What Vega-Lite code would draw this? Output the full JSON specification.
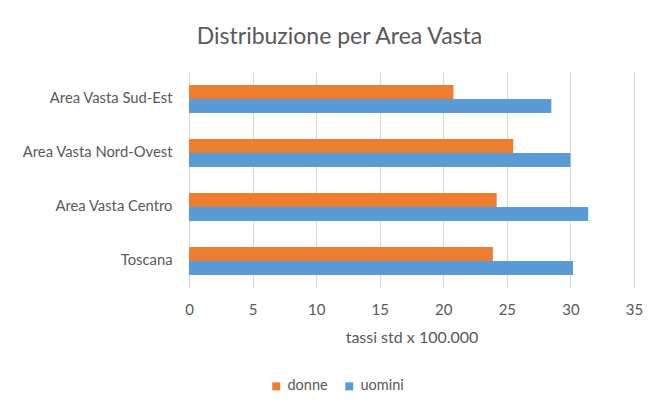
{
  "$schema": "https://vega.github.io/schema/vega-lite/v6.json",
  "autosize": "none",
  "width": 445,
  "height": 216,
  "padding": {"left": 189, "top": 72, "right": 28, "bottom": 117},
  "background": "white",
  "title": {
    "text": "Distribuzione per Area Vasta",
    "anchor": "middle",
    "frame": "group",
    "dx": -72,
    "offset": 23,
    "font": "Lato",
    "fontSize": 23,
    "fontWeight": "normal",
    "color": "#595959"
  },
  "data": {
    "values": [
      {"area": "Area Vasta Sud-Est", "sesso": "donne", "tasso": 20.8},
      {"area": "Area Vasta Sud-Est", "sesso": "uomini", "tasso": 28.5},
      {"area": "Area Vasta Nord-Ovest", "sesso": "donne", "tasso": 25.5},
      {"area": "Area Vasta Nord-Ovest", "sesso": "uomini", "tasso": 30.0},
      {"area": "Area Vasta Centro", "sesso": "donne", "tasso": 24.2},
      {"area": "Area Vasta Centro", "sesso": "uomini", "tasso": 31.4},
      {"area": "Toscana", "sesso": "donne", "tasso": 23.9},
      {"area": "Toscana", "sesso": "uomini", "tasso": 30.2}
    ]
  },
  "mark": {"type": "bar"},
  "encoding": {
    "y": {
      "field": "area",
      "type": "nominal",
      "sort": ["Area Vasta Sud-Est", "Area Vasta Nord-Ovest", "Area Vasta Centro", "Toscana"],
      "scale": {"paddingInner": 0.48, "paddingOuter": 0.24},
      "axis": {
        "title": null,
        "domain": false,
        "ticks": false,
        "labelPadding": 17,
        "labelFont": "Lato",
        "labelFontSize": 14.8,
        "labelColor": "#595959"
      }
    },
    "yOffset": {
      "field": "sesso",
      "type": "nominal",
      "sort": ["donne", "uomini"]
    },
    "x": {
      "field": "tasso",
      "type": "quantitative",
      "scale": {"domain": [0, 35], "nice": false},
      "axis": {
        "title": "tassi std x 100.000",
        "values": [0, 5, 10, 15, 20, 25, 30, 35],
        "domain": false,
        "ticks": false,
        "grid": true,
        "gridColor": "#D9D9D9",
        "gridWidth": 1.2,
        "labelFlush": false,
        "labelPadding": 14,
        "labelFont": "Lato",
        "labelFontSize": 15,
        "labelColor": "#595959",
        "titleFont": "Lato",
        "titleFontSize": 16,
        "titleFontWeight": "normal",
        "titleColor": "#595959",
        "titlePadding": 12
      }
    },
    "color": {
      "field": "sesso",
      "type": "nominal",
      "scale": {"domain": ["donne", "uomini"], "range": ["#ED7D31", "#5B9BD5"]},
      "legend": {
        "title": null,
        "orient": "none",
        "direction": "horizontal",
        "legendX": 80,
        "legendY": 307,
        "symbolType": "square",
        "symbolSize": 64,
        "symbolOpacity": 1,
        "labelFont": "Lato",
        "labelFontSize": 14.5,
        "labelColor": "#595959",
        "labelOffset": 4,
        "columnPadding": 14
      }
    }
  },
  "config": {
    "view": {"stroke": null}
  }
}
